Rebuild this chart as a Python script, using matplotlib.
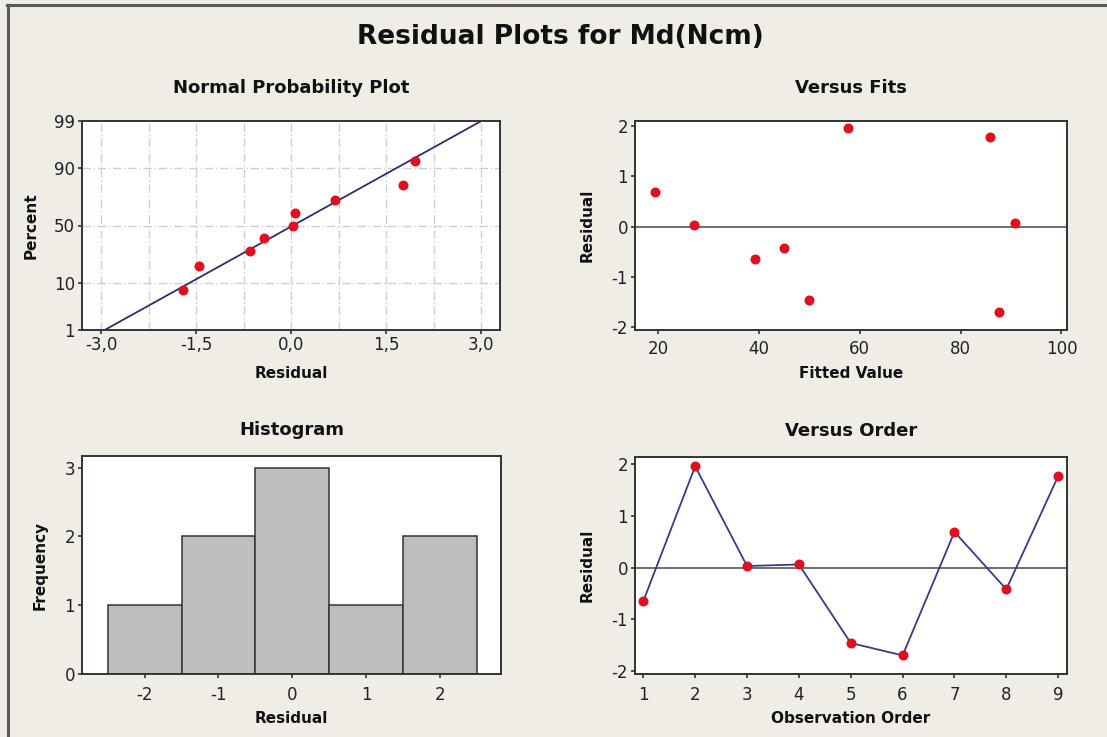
from statistics import NormalDist

import matplotlib
matplotlib.use("Agg")
import matplotlib.pyplot as plt
import numpy as np
from matplotlib.lines import Line2D

# residuals in observation order, and the matching fitted values
observation = [1, 2, 3, 4, 5, 6, 7, 8, 9]
residuals = [-0.65, 1.96, 0.03, 0.06, -1.46, -1.70, 0.69, -0.42, 1.77]
fitted = [39.3, 57.6, 27.1, 90.7, 50.0, 87.6, 19.4, 45.0, 85.9]

prob_ticks = [1, 10, 50, 90, 99]
resid_ticks = [-3.0, -1.5, 0.0, 1.5, 3.0]
hist_bins = [-2.5, -1.5, -0.5, 0.5, 1.5, 2.5]

BG = "#efede5"
RED = "#e0101e"
NAVY = "#2e2e6e"
SPINE = "#333333"

nd = NormalDist()
plt.rcParams["font.family"] = ["DejaVu Sans"]
plt.rcParams["axes.linewidth"] = 1.4
plt.rcParams["axes.edgecolor"] = SPINE
plt.rcParams["axes.unicode_minus"] = False

fig = plt.figure(figsize=(11.07, 7.37), dpi=100, facecolor=BG)
W, H = 1107, 737


def add_ax(left, top, right, bottom, xpad):
    ax = fig.add_axes([left / W, 1 - bottom / H, (right - left) / W, (bottom - top) / H])
    ax.set_facecolor("white")
    ax.tick_params(direction="out", length=3, width=1.2, colors=SPINE,
                   labelsize=12, labelcolor="#222222")
    ax.tick_params(axis="x", pad=xpad)
    ax.tick_params(axis="y", pad=2)
    return ax


def style(ax, title, xlabel, ylabel, tpad, xlpad, ylpad):
    ax.set_title(title, fontsize=13, fontweight="bold", pad=tpad, color="#111111")
    ax.set_xlabel(xlabel, fontsize=11, fontweight="bold", labelpad=xlpad, color="#111111")
    ax.set_ylabel(ylabel, fontsize=11, fontweight="bold", labelpad=ylpad, color="#111111")


# Normal probability plot
ax1 = add_ax(82, 121, 500, 330, 1)
r_sorted = np.sort(residuals)
n = len(r_sorted)
ranks = [(i + 1 - 0.3) / (n + 0.4) for i in range(n)]
z_pts = [nd.inv_cdf(p) for p in ranks]
mu = float(np.mean(residuals))
sd = float(np.std(residuals, ddof=1))
zlo, zhi = nd.inv_cdf(0.01), nd.inv_cdf(0.99)
zline = np.array([zlo, zhi])
ax1.plot(mu + sd * zline, zline, color=NAVY, lw=1.3, zorder=3)
ax1.plot(r_sorted, z_pts, "o", color=RED, ms=6.2, zorder=4)
for xv in np.arange(-3.0, 3.01, 0.75):
    ax1.axvline(xv, color="#cfcfd6", lw=1, ls=(0, (6, 2, 1, 2)), zorder=1)
for p in [10, 50, 90]:
    ax1.axhline(nd.inv_cdf(p / 100), color="#cfcfd6", lw=1, ls=(0, (6, 2, 1, 2)), zorder=1)
ax1.set_ylim(zlo, zhi)
ax1.set_yticks([nd.inv_cdf(p / 100) for p in prob_ticks])
ax1.set_yticklabels([str(p) for p in prob_ticks])
ax1.set_xlim(-3.3, 3.3)
ax1.set_xticks(resid_ticks)
ax1.set_xticklabels([f"{t:.1f}".replace(".", ",") for t in resid_ticks])
style(ax1, "Normal Probability Plot", "Residual", "Percent", 20, 9, 11)

# Versus fits
ax2 = add_ax(635, 121, 1067, 330, 4)
ax2.axhline(0, color="#555555", lw=1.2, zorder=1)
ax2.plot(fitted, residuals, "o", color=RED, ms=6.2, zorder=3)
ax2.set_xlim(15.4, 101.1)
ax2.set_ylim(-2.05, 2.09)
ax2.set_xticks([20, 40, 60, 80, 100])
ax2.set_yticks([-2, -1, 0, 1, 2])
style(ax2, "Versus Fits", "Fitted Value", "Residual", 20, 6, 12)

# Histogram
ax3 = add_ax(82, 456, 501, 674, 6)
ax3.hist(residuals, bins=hist_bins, color="#bebebe", edgecolor="#333333", linewidth=1.1)
ax3.set_xlim(-2.85, 2.83)
ax3.set_ylim(0, 3.17)
ax3.set_xticks([-2, -1, 0, 1, 2])
ax3.set_yticks([0, 1, 2, 3])
style(ax3, "Histogram", "Residual", "Frequency", 15, 5, 12)

# Versus order
ax4 = add_ax(635, 457, 1067, 674, 6)
ax4.axhline(0, color="#555555", lw=1.2, zorder=1)
ax4.plot(observation, residuals, "-", color="#3a3a8a", lw=1.3, zorder=2)
ax4.plot(observation, residuals, "o", color=RED, ms=6.2, zorder=3)
ax4.set_xlim(0.84, 9.17)
ax4.set_ylim(-2.06, 2.14)
ax4.set_xticks(observation)
ax4.set_yticks([-2, -1, 0, 1, 2])
style(ax4, "Versus Order", "Observation Order", "Residual", 15, 5, 12)

fig.text(560 / W, 1 - 37 / H, "Residual Plots for Md(Ncm)", ha="center", va="center",
         fontsize=19, fontweight="bold", color="#111111")

# window frame at top and left
fig.add_artist(Line2D([7 / W, 1], [1 - 4.5 / H, 1 - 4.5 / H], color="#5a5a5a", lw=2.2))
fig.add_artist(Line2D([7.5 / W, 7.5 / W], [0, 1 - 4.5 / H], color="#5a5a5a", lw=2.2))

fig.savefig("out.png", dpi=100, facecolor=BG)
